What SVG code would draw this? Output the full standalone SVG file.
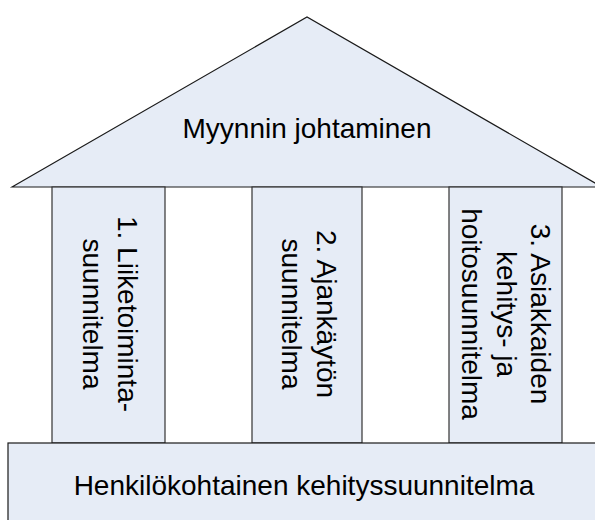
<svg xmlns="http://www.w3.org/2000/svg" width="595" height="520" viewBox="0 0 595 520">
<style>
.shape{fill:#E6ECF6;stroke:#1a1a1a;stroke-width:1.2}
.pillar{fill:#E6ECF6;stroke:#333;stroke-width:1.2}
.t{font-family:"Liberation Sans",Arial,sans-serif;font-size:28px;fill:#000;text-anchor:middle}
</style>
<rect width="595" height="520" fill="#fff"/>
<g id="roof">
<polygon class="shape" points="12,187 307,17 602,187"/>
<text class="t" x="307" y="138">Myynnin johtaminen</text>
</g>
<g id="pillar1">
<rect class="pillar" x="52" y="187" width="113" height="256"/>
<text class="t" transform="translate(117.5,314) rotate(90)"><tspan x="0" y="0">1. Liiketoiminta-</tspan><tspan x="0" y="35">suunnitelma</tspan></text>
</g>
<g id="pillar2">
<rect class="pillar" x="252" y="187" width="110" height="256"/>
<text class="t" transform="translate(317,314) rotate(90)"><tspan x="0" y="0">2. Ajankäytön</tspan><tspan x="0" y="35">suunnitelma</tspan></text>
</g>
<g id="pillar3">
<rect class="pillar" x="449" y="187" width="113" height="256"/>
<text class="t" transform="translate(531,314) rotate(90)"><tspan x="0" y="0">3. Asiakkaiden</tspan><tspan x="0" y="34.5">kehitys- ja</tspan><tspan x="0" y="69">hoitosuunnitelma</tspan></text>
</g>
<g id="base">
<rect class="shape" x="8" y="443" width="600" height="90"/>
<text class="t" x="304" y="495">Henkilökohtainen kehityssuunnitelma</text>
</g>
<g id="connectors"></g>
</svg>
